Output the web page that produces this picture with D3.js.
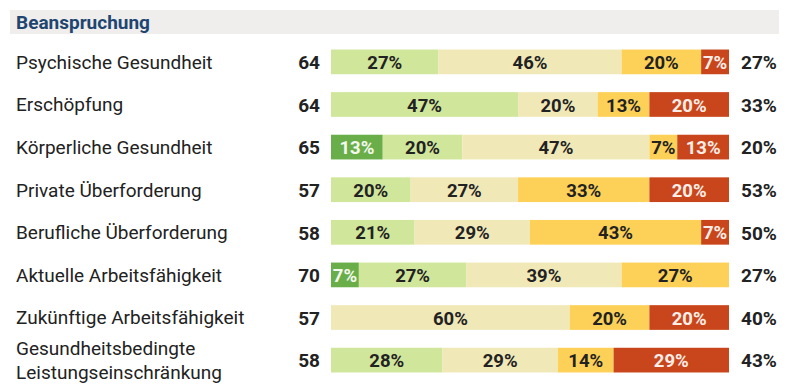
<!DOCTYPE html>
<html>
<head>
<meta charset="utf-8">
<script src="https://cdn.jsdelivr.net/npm/d3@7"></script>
<style>
  body { margin: 0; background: #fff; }
  text { font-family: Roboto, "Open Sans", sans-serif; }
</style>
</head>
<body>
<svg id="chart" width="794" height="388"></svg>
<script>
// data
const title = 'Beanspruchung'
const labels = [
  ['Psychische Gesundheit'],
  ['Erschöpfung'],
  ['Körperliche Gesundheit'],
  ['Private Überforderung'],
  ['Berufliche Überforderung'],
  ['Aktuelle Arbeitsfähigkeit'],
  ['Zukünftige Arbeitsfähigkeit'],
  ['Gesundheitsbedingte', 'Leistungseinschränkung']
]
const scores = [64, 64, 65, 57, 58, 70, 57, 58]
const veryGood = [0, 0, 13, 0, 0, 7, 0, 0]
const good     = [27, 47, 20, 20, 21, 27, 0, 28]
const medium   = [46, 20, 47, 27, 29, 39, 60, 29]
const high     = [20, 13, 7, 33, 43, 27, 20, 14]
const veryHigh = [7, 20, 13, 20, 7, 0, 20, 29]
const riskShare = ['27%', '33%', '20%', '53%', '50%', '27%', '40%', '43%']

const series = [veryGood, good, medium, high, veryHigh]
const colors = ['#6aae4a', '#d0e69b', '#f1e8b8', '#fdd157', '#c9461c']
const textColors = ['#f4f8ee', '#222', '#222', '#222', '#fbeee8']

const svg = d3.select('#chart')

// header band
svg.append('rect').attr('x', 10).attr('y', 10).attr('width', 769).attr('height', 24).attr('fill', '#efeeec')
svg.append('text').attr('x', 16).attr('y', 28.5).text(title)
  .attr('font-size', 19).attr('font-weight', 'bold').attr('fill', '#1f4670')

const rows = labels.map((l, i) => ({
  label: l, score: scores[i], share: riskShare[i],
  parts: series.map(s => s[i])
}))

const y = d3.scaleBand().domain(d3.range(rows.length)).range([41, 381]).paddingInner(0.42).paddingOuter(0.2)
const x = d3.scaleLinear().domain([0, 100]).range([331, 729])

const row = svg.selectAll('g.row').data(rows).join('g').attr('class', 'row')
  .attr('transform', (d, i) => `translate(0,${y(i)})`)

const bh = y.bandwidth()

row.each(function(d) {
  const g = d3.select(this)
  let acc = 0
  const segs = d.parts.map((v, k) => { const s = {v, k, x0: acc}; acc += v; return s })
    .filter(s => s.v > 0)
  g.selectAll('rect').data(segs).join('rect')
    .attr('x', s => x(s.x0)).attr('width', s => x(s.x0 + s.v) - x(s.x0))
    .attr('y', 0).attr('height', bh).attr('fill', s => colors[s.k])
  g.selectAll('text.seg').data(segs).join('text').attr('class', 'seg')
    .attr('x', s => (x(s.x0) + x(s.x0 + s.v)) / 2).attr('y', bh / 2 + 0.5).attr('dy', '0.36em')
    .attr('text-anchor', 'middle').attr('font-size', 18.5).attr('font-weight', 'bold')
    .attr('fill', s => textColors[s.k]).text(s => s.v + '%')

  // category label, one or two lines
  const lt = g.append('text').attr('x', 16).attr('font-size', 19).attr('fill', '#222')
  const n = d.label.length
  d.label.forEach((line, j) => {
    lt.append('tspan').attr('x', 16)
      .attr('y', bh / 2 + (j - (n - 1) / 2) * 24).attr('dy', '0.36em').text(line)
  })

  g.append('text').attr('x', 320).attr('y', bh / 2 + 0.5).attr('dy', '0.36em')
    .attr('text-anchor', 'end').attr('font-size', 19).attr('font-weight', 'bold').attr('fill', '#222')
    .text(d.score)
  g.append('text').attr('x', 741).attr('y', bh / 2 + 0.5).attr('dy', '0.36em')
    .attr('font-size', 19).attr('font-weight', 'bold').attr('fill', '#222')
    .text(d.share)
})
</script>
</body>
</html>
